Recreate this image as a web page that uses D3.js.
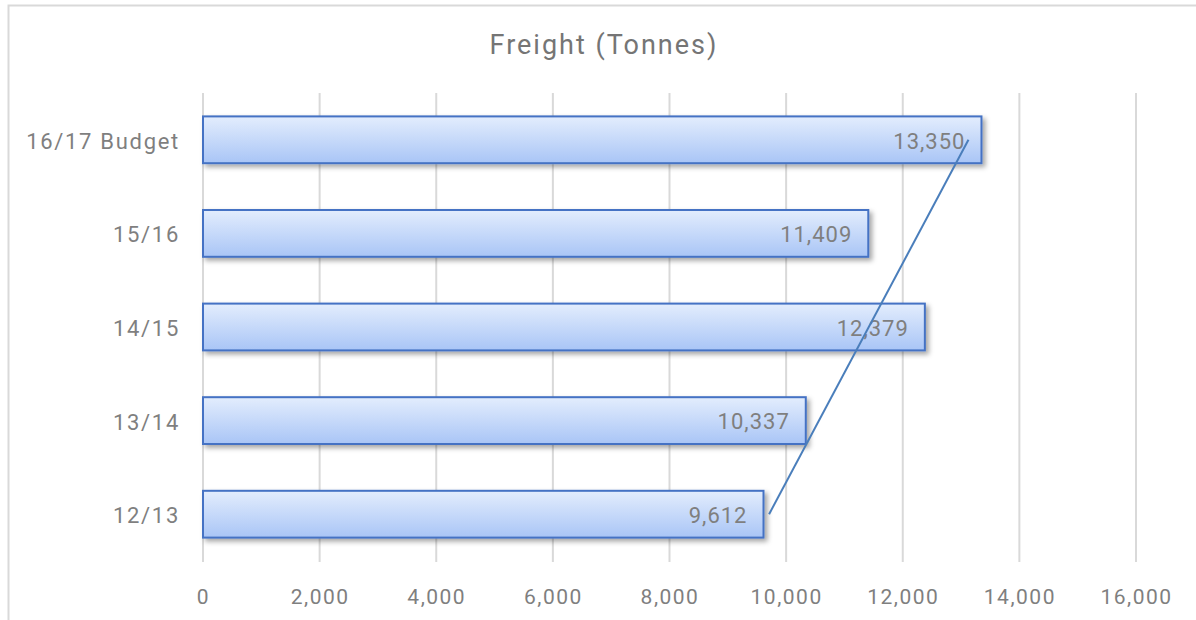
<!DOCTYPE html>
<html>
<head>
<meta charset="utf-8">
<script src="https://cdn.jsdelivr.net/npm/d3@7"></script>
<style>
  body { margin: 0; background: #fff; }
  svg { display: block; }
</style>
</head>
<body>
<svg width="1196" height="620"></svg>
<script>
const categories = ['16/17 Budget', '15/16', '14/15', '13/14', '12/13'];
const freight = [13350, 11409, 12379, 10337, 9612];
const xTicks = [0, 2000, 4000, 6000, 8000, 10000, 12000, 14000, 16000];
const chartTitle = 'Freight (Tonnes)';

(function(d3) {
  'use strict';

  const svg = d3.select('svg');
  const width = +svg.attr('width');
  const height = +svg.attr('height');
  const margin = { top: 93, right: 60, bottom: 58, left: 203 };
  const textColor = '#7f7f7f';
  const font = 'Roboto, "Open Sans", sans-serif';

  // outer chart border
  svg.append('rect')
    .attr('x', 8.5).attr('y', 5.5)
    .attr('width', width + 10).attr('height', height + 10)
    .attr('fill', '#fff')
    .attr('stroke', '#d9d9d9')
    .attr('stroke-width', 2);

  const defs = svg.append('defs');
  const grad = defs.append('linearGradient')
    .attr('id', 'barFill')
    .attr('x1', 0).attr('y1', 0).attr('x2', 0).attr('y2', 1);
  grad.append('stop').attr('offset', '0%').attr('stop-color', '#e3edfd');
  grad.append('stop').attr('offset', '100%').attr('stop-color', '#a9c5f6');

  const shadow = defs.append('filter')
    .attr('id', 'shadow')
    .attr('x', '-5%').attr('y', '-30%')
    .attr('width', '115%').attr('height', '170%');
  shadow.append('feDropShadow')
    .attr('dx', 3).attr('dy', 3)
    .attr('stdDeviation', 2.5)
    .attr('flood-color', '#000')
    .attr('flood-opacity', 0.35);

  const x = d3.scaleLinear()
    .domain([0, 16000])
    .range([margin.left, margin.left + 933]);

  const y = d3.scaleBand()
    .domain(categories)
    .range([margin.top, height - margin.bottom - 1])
    .paddingInner(0.5)
    .paddingOuter(0.25);

  // title
  svg.append('text')
    .attr('x', 604).attr('y', 54)
    .attr('text-anchor', 'middle')
    .attr('font-family', font)
    .attr('font-size', 27)
    .attr('letter-spacing', 2)
    .attr('fill', '#757575')
    .text(chartTitle);

  // gridlines
  svg.append('g')
    .selectAll('line')
    .data(xTicks)
    .enter().append('line')
    .attr('x1', d => x(d)).attr('x2', d => x(d))
    .attr('y1', margin.top).attr('y2', height - margin.bottom)
    .attr('stroke', '#d9d9d9')
    .attr('stroke-width', 2);

  // x axis labels
  const xAxis = d3.axisBottom(x)
    .tickValues(xTicks)
    .tickSize(0)
    .tickPadding(0)
    .tickFormat(d3.format(','));
  const gx = svg.append('g')
    .attr('transform', `translate(0,${height - margin.bottom})`)
    .call(xAxis);
  gx.select('.domain').remove();
  gx.selectAll('text')
    .attr('dy', 0)
    .attr('y', 42)
    .attr('font-family', font)
    .attr('font-size', 21)
    .attr('letter-spacing', 1.5)
    .attr('fill', textColor);

  // y axis labels
  const yAxis = d3.axisLeft(y).tickSize(0).tickPadding(23);
  const gy = svg.append('g')
    .attr('transform', `translate(${margin.left},2)`)
    .call(yAxis);
  gy.select('.domain').remove();
  gy.selectAll('text')
    .attr('font-family', font)
    .attr('font-size', 22)
    .attr('letter-spacing', 1.7)
    .attr('fill', textColor);

  // bars
  const rows = categories.map((c, i) => ({ category: c, value: freight[i] }));
  svg.append('g')
    .selectAll('rect')
    .data(rows)
    .enter().append('rect')
    .attr('x', x(0))
    .attr('y', d => y(d.category))
    .attr('width', d => x(d.value) - x(0))
    .attr('height', y.bandwidth())
    .attr('fill', 'url(#barFill)')
    .attr('stroke', '#4472c4')
    .attr('stroke-width', 2)
    .attr('filter', 'url(#shadow)');

  // data labels (inside end)
  svg.append('g')
    .selectAll('text')
    .data(rows)
    .enter().append('text')
    .attr('x', d => x(d.value) - 16)
    .attr('y', d => y(d.category) + y.bandwidth() / 2 + 1)
    .attr('dy', '0.35em')
    .attr('text-anchor', 'end')
    .attr('font-family', font)
    .attr('font-size', 22)
    .attr('letter-spacing', 1)
    .attr('fill', textColor)
    .text(d => d3.format(',')(d.value));

  // linear trendline, ordered oldest to newest
  const ordered = rows.slice().reverse();
  const n = ordered.length;
  const xs = ordered.map((d, i) => i + 1);
  const mx = d3.mean(xs);
  const my = d3.mean(ordered, d => d.value);
  const slope = d3.sum(ordered, (d, i) => (xs[i] - mx) * (d.value - my)) /
    d3.sum(xs, v => (v - mx) * (v - mx));
  const intercept = my - slope * mx;
  const trend = ordered.map((d, i) => [
    x(intercept + slope * xs[i]),
    y(d.category) + y.bandwidth() / 2
  ]);
  svg.append('path')
    .attr('d', d3.line()([trend[0], trend[n - 1]]))
    .attr('fill', 'none')
    .attr('stroke', '#4a7ebb')
    .attr('stroke-width', 2);

}(d3));
</script>
</body>
</html>
